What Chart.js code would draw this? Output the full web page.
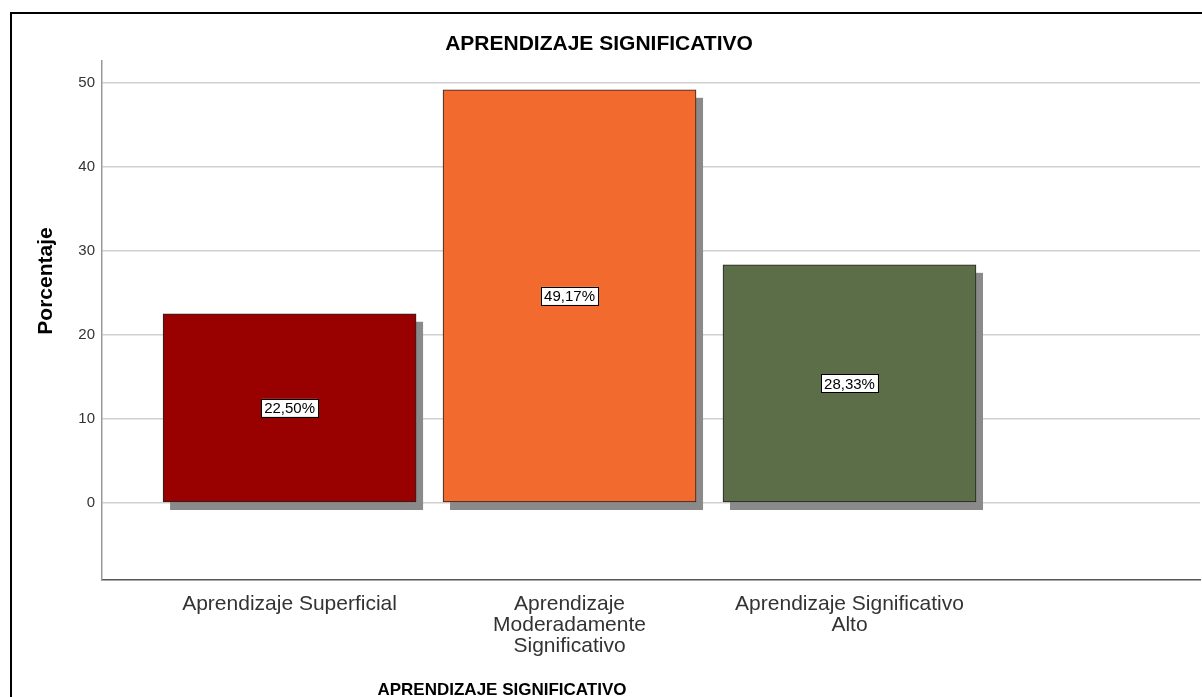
<!DOCTYPE html>
<html>
<head>
<meta charset="utf-8">
<script src="https://cdn.jsdelivr.net/npm/chart.js@4"></script>
<style>
  html, body { margin: 0; padding: 0; background: #fff; }
  #wrap { width: 1202px; height: 697px; }
</style>
</head>
<body>
<div id="wrap"><canvas id="chart" width="1202" height="697"></canvas></div>
<script>
// categories and values
const categories = [
  ['Aprendizaje Superficial'],
  ['Aprendizaje', 'Moderadamente', 'Significativo'],
  ['Aprendizaje Significativo', 'Alto']
];
const positions = [1, 2, 3];
const percentages = [22.50, 49.17, 28.33];
const pctLabels = ['22,50%', '49,17%', '28,33%'];
const barColors = ['#990000', '#F26A2D', '#5B6E48'];
const yTicks = [0, 10, 20, 30, 40, 50];

const chartTitle = 'APRENDIZAJE SIGNIFICATIVO';
const xTitle = 'APRENDIZAJE SIGNIFICATIVO';
const yTitle = 'Porcentaje';

const FONT = '"Liberation Sans", Arial, sans-serif';

// frame, titles and drop shadows
const decorations = {
  id: 'decorations',
  beforeDraw(chart) {
    const ctx = chart.ctx;
    ctx.save();
    ctx.fillStyle = '#fff';
    ctx.fillRect(0, 0, chart.width, chart.height);
    ctx.strokeStyle = '#000';
    ctx.lineWidth = 2;
    ctx.strokeRect(11, 13, 1400, 1000);
    ctx.restore();
  },
  beforeDatasetsDraw(chart) {
    const ctx = chart.ctx;
    const meta = chart.getDatasetMeta(0);
    ctx.save();
    ctx.fillStyle = '#8a8a8a';
    meta.data.forEach(bar => {
      const left = bar.x - bar.width / 2;
      ctx.fillRect(left + 7, bar.y + 8, bar.width, bar.base - bar.y);
    });
    ctx.restore();
  },
  afterDraw(chart) {
    const ctx = chart.ctx;
    ctx.save();
    ctx.fillStyle = '#000';
    ctx.textAlign = 'center';
    ctx.textBaseline = 'middle';
    ctx.font = 'bold 21px ' + FONT;
    ctx.fillText(chartTitle, 599, 44);
    ctx.font = 'bold 17px ' + FONT;
    ctx.fillText(xTitle, 502, 690);

    ctx.font = 'bold 21px ' + FONT;
    ctx.translate(46, 281);
    ctx.rotate(-Math.PI / 2);
    ctx.fillText(yTitle, 0, 0);
    ctx.restore();

    // value boxes in the middle of each bar
    const meta = chart.getDatasetMeta(0);
    ctx.save();
    ctx.font = '15px ' + FONT;
    ctx.textAlign = 'center';
    ctx.textBaseline = 'middle';
    meta.data.forEach((bar, i) => {
      const cy = (bar.y + bar.base) / 2;
      const w = ctx.measureText(pctLabels[i]).width + 6;
      const h = 18;
      ctx.fillStyle = '#fff';
      ctx.fillRect(bar.x - w / 2, cy - h / 2, w, h);
      ctx.strokeStyle = '#000';
      ctx.lineWidth = 1;
      ctx.strokeRect(Math.round(bar.x - w / 2) + 0.5, Math.round(cy - h / 2) + 0.5, Math.round(w), h);
      ctx.fillStyle = '#000';
      ctx.fillText(pctLabels[i], bar.x, cy + 1);
    });
    ctx.restore();
  }
};

const ctx = document.getElementById('chart').getContext('2d');
new Chart(ctx, {
  type: 'bar',
  data: {
    datasets: [{
      data: positions.map((x, i) => ({ x: x, y: percentages[i] })),
      backgroundColor: barColors,
      borderColor: '#222',
      borderWidth: 1,
      borderSkipped: false,
      barThickness: 253
    }]
  },
  options: {
    responsive: false,
    animation: false,
    layout: { padding: { left: 0, top: 61, right: 2, bottom: 0 } },
    plugins: {
      legend: { display: false },
      tooltip: { enabled: false }
    },
    scales: {
      x: {
        type: 'linear',
        min: 0.33,
        max: 4.252,
        offset: false,
        afterBuildTicks(scale) {
          scale.ticks = positions.map(v => ({ value: v }));
        },
        afterFit(scale) { scale.height = 117; },
        grid: { display: false, drawTicks: false },
        border: { display: true, color: '#555', width: 1.5 },
        ticks: {
          padding: 14,
          color: '#333',
          maxRotation: 0,
          autoSkip: false,
          font: { family: FONT, size: 21, lineHeight: 1.0 },
          callback(value) {
            const i = positions.indexOf(value);
            return i >= 0 ? categories[i] : '';
          }
        }
      },
      y: {
        min: -9.2,
        max: 52.6,
        afterBuildTicks(scale) {
          scale.ticks = yTicks.map(v => ({ value: v }));
        },
        afterFit(scale) { scale.width = 102; },
        grid: { color: '#d0d0d0', lineWidth: 1.5, drawTicks: false },
        border: { display: true, color: '#999', width: 1.5 },
        ticks: {
          padding: 7,
          color: '#333',
          font: { family: FONT, size: 15 }
        }
      }
    }
  },
  plugins: [decorations]
});
</script>
</body>
</html>
